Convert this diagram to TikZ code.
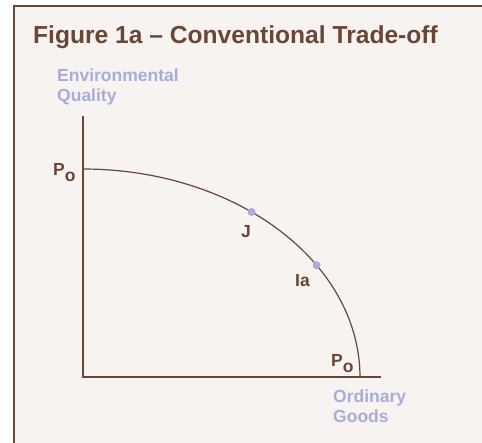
\documentclass[tikz,border=0pt]{standalone}
\usepackage{fontspec}
\setmainfont{Liberation Sans}
\definecolor{umber}{HTML}{6A4636}
\definecolor{paper}{HTML}{F7F3F0}
\definecolor{lilac}{HTML}{A9ACDB}
\begin{document}
\begin{tikzpicture}[x=1pt,y=-1pt,
    axislabel/.style={text=lilac, font=\fontsize{17.5}{20}\selectfont\bfseries, align=left, anchor=north west, inner sep=0pt},
    ptlabel/.style={text=umber, font=\fontsize{17.5}{20}\selectfont\bfseries, anchor=base west, inner sep=0pt},
    dot/.style={circle, fill=lilac, inner sep=0pt, minimum size=8pt}]
    \useasboundingbox (0,0) rectangle (482,443);

    % Rahmen
    \fill[white] (0,0) rectangle (482,443);
    \fill[paper, draw=umber, line width=1.8pt] (14,6) rectangle (495,460);
    \node[text=umber, font=\fontsize{24.6}{28}\selectfont\bfseries, anchor=base west, inner sep=0pt] (title) at (33,44) {Figure 1a -- Conventional Trade-off};

    % Achsen
    \coordinate (ytop) at (83,116);
    \coordinate (O) at (83,377);
    \coordinate (xend) at (381,377);
    \draw[umber, line width=1.4pt] (ytop) -- (O) -- (xend);
    \node[axislabel] (envq) at (57,69) {Environmental\\Quality};
    \node[axislabel] (ordg) at (333,390) {Ordinary\\Goods};

    % Transformationskurve
    \draw[umber, line width=1.2pt] plot[domain=0:90, samples=80] ({83+277*sin(\x)}, {377-208*cos(\x)});
    \node[dot] (J) at ({83+277*sin(37.5)}, {377-208*cos(37.5)}) {};
    \node[dot] (Ia) at ({83+277*sin(57.5)}, {377-208*cos(57.5)}) {};

    % Beschriftung
    \node[ptlabel] (P0y) at (53,176) {P\raisebox{-6pt}{o}};
    \node[ptlabel] (P0x) at (331,367) {P\raisebox{-6pt}{o}};
    \node[ptlabel] (Jlab) at (241,238) {J};
    \node[ptlabel] (Ialab) at (295,287) {Ia};
\end{tikzpicture}
\end{document}
